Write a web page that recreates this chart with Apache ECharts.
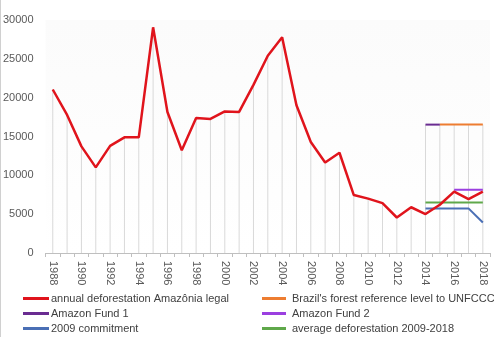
<!DOCTYPE html>
<html>
<head>
<meta charset="utf-8">
<script src="https://cdn.jsdelivr.net/npm/echarts@6/dist/echarts.min.js"></script>
<style>
  html, body { margin: 0; padding: 0; background: #fff; }
  #chart { width: 494px; height: 337px; }
</style>
</head>
<body>
<div id="chart"></div>
<script>
// Years on the category axis
const years = [];
for (let y = 1988; y <= 2018; y++) years.push(String(y));

// Annual deforestation in Amazônia Legal (km²)
const annualDeforestation = [21050, 17770, 13730, 11030, 13786, 14896, 14896, 29059, 18161, 13227,
  17383, 17259, 18226, 18165, 21651, 25396, 27772, 19014, 14286, 11651,
  12911, 7464, 7000, 6418, 4571, 5891, 5012, 6207, 7893, 6947, 7900];

// Reference levels, only defined for the last years (null elsewhere)
const pad = n => new Array(n).fill(null);
const forestReferenceLevel = pad(27).concat([16531, 16531, 16531, 16531]);      // 2015-2018
const amazonFund1 = pad(26).concat([16531, 16531, null, null, null]);           // 2014-2015
const amazonFund2 = pad(28).concat([8143, 8143, 8143]);                         // 2016-2018
const commitment2009 = pad(26).concat([5744, 5744, 5744, 5744, 3925]);          // 2014-2018
const averageDeforestation = pad(26).concat([6497, 6497, 6497, 6497, 6497]);    // 2014-2018

const yTicks = { min: 0, max: 30000, interval: 5000 };

// Drop lines run from the highest value of each year down to the axis
const allSeries = [annualDeforestation, forestReferenceLevel, amazonFund1, amazonFund2, commitment2009, averageDeforestation];
const dropHeights = years.map((_, i) => Math.max(...allSeries.map(s => s[i] == null ? 0 : s[i])));

const font = 'Liberation Sans';
const colors = {
  annual: '#e0141c', frl: '#ed7d31', fund1: '#6a2c91',
  fund2: '#9b3fe0', commit: '#4a6fb5', avg: '#5fa84a'
};
const names = {
  annual: 'annual deforestation Amazônia legal',
  frl: "Brazil's forest reference level to UNFCCC",
  fund1: 'Amazon Fund 1',
  fund2: 'Amazon Fund 2',
  commit: '2009 commitment',
  avg: 'average deforestation 2009-2018'
};

const lineSeries = (key, data, width, z) => ({
  name: names[key], type: 'line', data, symbol: 'none', connectNulls: false, z,
  lineStyle: { color: colors[key], width }, itemStyle: { color: colors[key] },
  emphasis: { disabled: true }, animation: false
});

// One legend entry per block, laid out in two columns of three rows
const legendEntry = (key, left, top, width, textShift) => ({
  left, top, itemWidth: width, itemHeight: 3, icon: 'rect', padding: 0, selectedMode: false,
  itemStyle: { color: colors[key] },
  textStyle: { color: '#404040', fontSize: 11, fontFamily: font, padding: [0, 0, 0, textShift] },
  data: [names[key]]
});

const chart = echarts.init(document.getElementById('chart'));
chart.setOption({
  animation: false,
  backgroundColor: '#ffffff',
  textStyle: { fontFamily: font },
  grid: {
    left: 45, right: 4, top: 20, bottom: 84,
    show: true, borderWidth: 0,
    backgroundColor: new echarts.graphic.LinearGradient(0, 0, 0, 1, [
      { offset: 0, color: '#fbfbfb' }, { offset: 1, color: '#ffffff' }
    ])
  },
  xAxis: {
    type: 'category', data: years, boundaryGap: true,
    axisLine: { lineStyle: { color: '#bfbfbf', width: 1 } },
    axisTick: { show: true, interval: 0, length: 4, lineStyle: { color: '#bfbfbf' } },
    axisLabel: { interval: 1, rotate: -90, margin: 8, color: '#595959', fontSize: 11, fontFamily: font },
    splitLine: { show: false }
  },
  yAxis: {
    type: 'value', min: yTicks.min, max: yTicks.max, interval: yTicks.interval,
    axisLine: { show: false }, axisTick: { show: false },
    axisLabel: { margin: 12, color: '#595959', fontSize: 11, fontFamily: font, formatter: v => String(v) },
    splitLine: { show: false }
  },
  legend: [
    legendEntry('annual', 23, 293, 26, -3),
    legendEntry('fund1', 23, 308, 26, -3),
    legendEntry('commit', 23, 323, 26, -3),
    legendEntry('frl', 262, 293, 24, 1),
    legendEntry('fund2', 262, 308, 24, 1),
    legendEntry('avg', 262, 323, 24, 1)
  ],
  series: [
    {
      name: 'drop', type: 'bar', data: dropHeights, barWidth: 1, silent: true, z: 1,
      itemStyle: { color: '#d9d9d9' }, animation: false
    },
    lineSeries('frl', forestReferenceLevel, 2, 3),
    lineSeries('fund1', amazonFund1, 2, 3),
    lineSeries('fund2', amazonFund2, 2, 3),
    lineSeries('commit', commitment2009, 2, 3),
    lineSeries('avg', averageDeforestation, 2, 3),
    lineSeries('annual', annualDeforestation, 2.5, 5)
  ],
  graphic: [
    { type: 'line', shape: { x1: 0.5, y1: 0, x2: 0.5, y2: 337 }, style: { stroke: '#d0d0d0', lineWidth: 1 }, silent: true }
  ]
});
</script>
</body>
</html>
